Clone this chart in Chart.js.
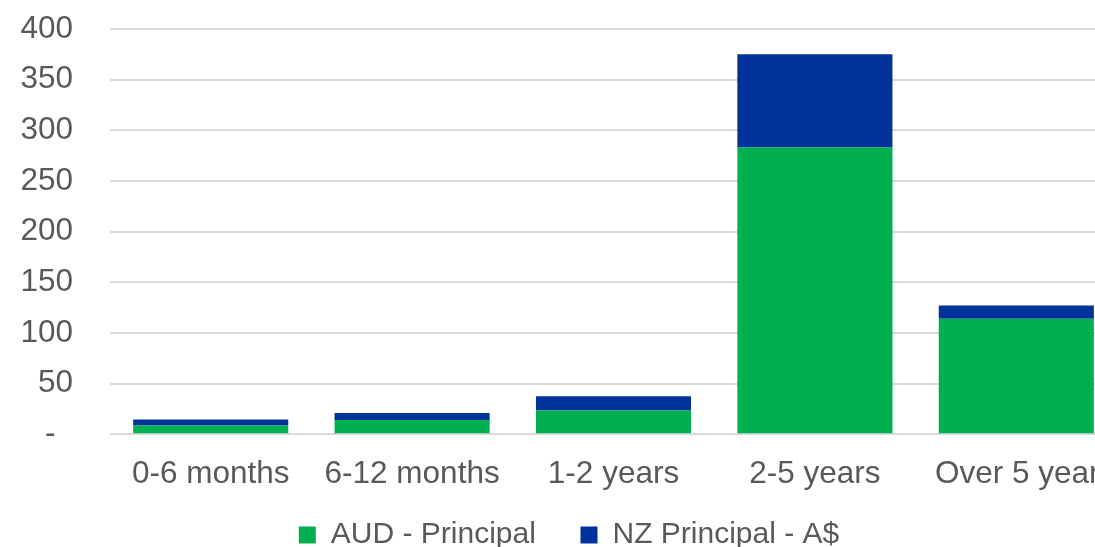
<!DOCTYPE html>
<html>
<head>
<meta charset="utf-8">
<script src="https://cdn.jsdelivr.net/npm/chart.js@4.4.1/dist/chart.umd.min.js"></script>
<style>
  html, body { margin: 0; padding: 0; background: #ffffff; overflow: hidden; width: 1095px; height: 547px; }
  #wrap { position: absolute; left: 0; top: 0; width: 1133px; height: 560px; }
</style>
</head>
<body>
<div id="wrap"><canvas id="c" width="1133" height="560"></canvas></div>
<script>
const categories = ['0-6 months', '6-12 months', '1-2 years', '2-5 years', 'Over 5 years'];
const seriesNames = ['AUD - Principal', 'NZ Principal - A$'];
const audPrincipal = [8.5, 14, 23.5, 283, 114];
const nzPrincipal = [6, 7, 14, 92, 13];
const yTickValues = [0, 50, 100, 150, 200, 250, 300, 350, 400];
const yTickLabels = ['-  ', '50', '100', '150', '200', '250', '300', '350', '400'];

const FONT = 'Liberation Sans, Arial, sans-serif';
const TEXT = '#595959';

new Chart(document.getElementById('c'), {
  type: 'bar',
  data: {
    labels: categories,
    datasets: [
      { label: seriesNames[0], data: audPrincipal, backgroundColor: '#00B050', borderWidth: 0 },
      { label: seriesNames[1], data: nzPrincipal, backgroundColor: '#003399', borderWidth: 0 }
    ]
  },
  options: {
    responsive: false,
    animation: false,
    layout: { padding: { left: 21, right: 16, top: 29, bottom: 0 } },
    datasets: { bar: { categoryPercentage: 1.0, barPercentage: 0.77 } },
    plugins: {
      tooltip: { enabled: false },
      legend: {
        position: 'bottom',
        labels: {
          font: { family: FONT, size: 30 },
          color: TEXT,
          boxWidth: 17,
          boxHeight: 17,
          padding: 28,
          generateLabels: (chart) => {
            const items = Chart.defaults.plugins.legend.labels.generateLabels(chart);
            if (items[0]) items[0].text = items[0].text + '  ';
            return items;
          }
        }
      }
    },
    scales: {
      x: {
        stacked: true,
        grid: { display: false, drawTicks: false },
        border: { display: false },
        afterFit: (axis) => { axis.height = axis.height - 22; axis.paddingLeft = 0; axis.paddingRight = 0; },
        ticks: {
          font: { family: FONT, size: 31.5 },
          color: TEXT,
          padding: 21,
          maxRotation: 0,
          autoSkip: false,
          callback: (v, i) => (i === categories.length - 1 ? '  ' : '') + categories[i]
        }
      },
      y: {
        stacked: true,
        min: 0,
        max: 400,
        afterBuildTicks: (axis) => { axis.ticks = yTickValues.map(v => ({ value: v })); },
        afterFit: (axis) => { axis.width = 89; axis.paddingTop = 0; axis.paddingBottom = 0; },
        grid: { color: '#d9d9d9', lineWidth: 2, drawTicks: false },
        border: { display: false },
        ticks: {
          font: { family: FONT, size: 31.5 },
          color: TEXT,
          padding: 37,
          callback: (v) => yTickLabels[yTickValues.indexOf(v)]
        }
      }
    }
  }
});
</script>
</body>
</html>
